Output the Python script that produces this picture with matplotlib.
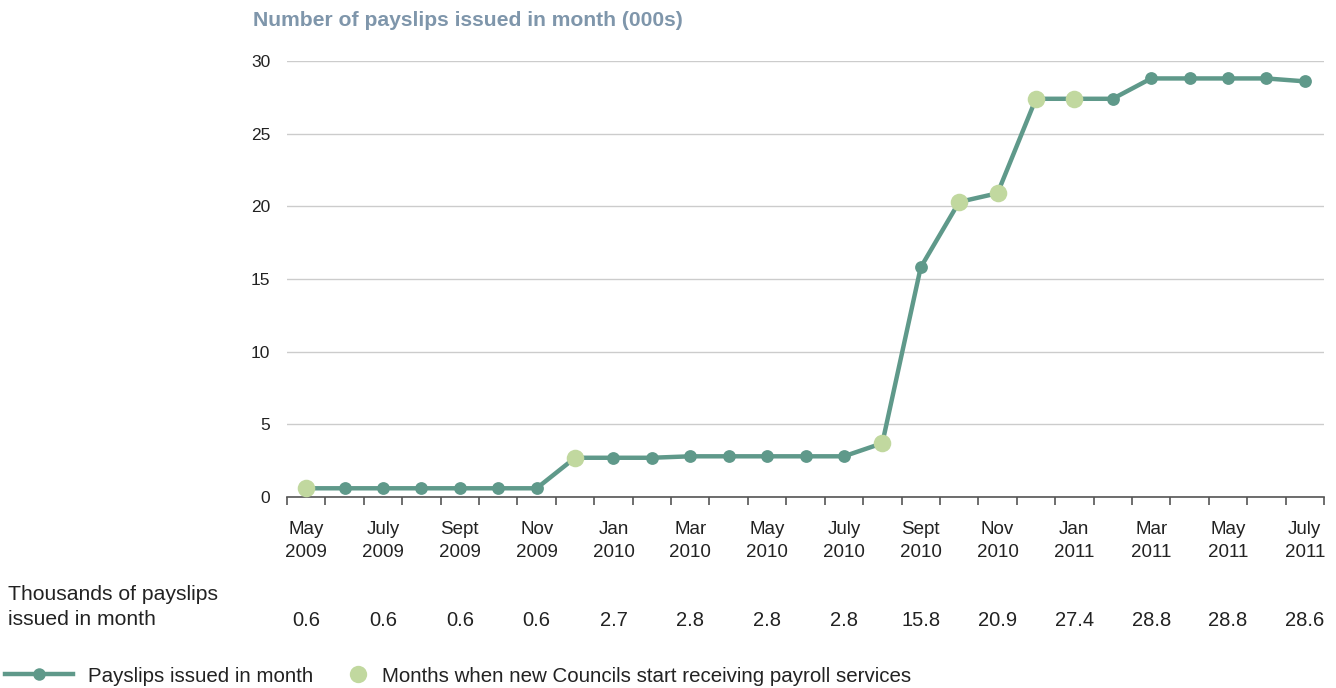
import numpy as np
import matplotlib
matplotlib.use("Agg")
import matplotlib.pyplot as plt
from matplotlib.lines import Line2D
from matplotlib.transforms import blended_transform_factory

# Data
months = ["May", "June", "July", "Aug", "Sept", "Oct", "Nov", "Dec",
          "Jan", "Feb", "Mar", "Apr", "May", "June", "July", "Aug", "Sept", "Oct", "Nov", "Dec",
          "Jan", "Feb", "Mar", "Apr", "May", "June", "July"]
years = [2009] * 8 + [2010] * 12 + [2011] * 7
payslips = [0.6, 0.6, 0.6, 0.6, 0.6, 0.6, 0.6, 2.7,
            2.7, 2.7, 2.8, 2.8, 2.8, 2.8, 2.8, 3.7, 15.8, 20.3, 20.9, 27.4,
            27.4, 27.4, 28.8, 28.8, 28.8, 28.8, 28.6]
new_council = [1, 0, 0, 0, 0, 0, 0, 1,
               0, 0, 0, 0, 0, 0, 0, 1, 0, 1, 1, 1,
               1, 0, 0, 0, 0, 0, 0]
yticks = [0, 5, 10, 15, 20, 25, 30]

dark = "#5f998a"
light = "#c1d89f"
title_col = "#7f96ab"
txt = "#222222"

plt.rcParams["font.family"] = ["Liberation Sans", "DejaVu Sans"]

x = np.arange(len(payslips))
vals = np.array(payslips)
hl = np.array(new_council, dtype=bool)

fig = plt.figure(figsize=(13.36, 6.88), dpi=100, facecolor="white")
ax = fig.add_axes([287 / 1336, 1 - 497 / 688, (1324 - 287) / 1336, (497 - 61) / 688])

ax.plot(x, vals, color=dark, lw=3.2, zorder=3)
ax.scatter(x[~hl], vals[~hl], s=85, color=dark, zorder=4, linewidths=0)
ax.scatter(x[hl], vals[hl], s=160, color=light, zorder=5, linewidths=0)

ax.set_xlim(-0.5, len(payslips) - 0.5)
ax.set_ylim(0, 30)
ax.set_yticks(yticks)
ax.tick_params(axis="y", length=0, labelsize=12.5, labelcolor=txt, pad=12)
ax.yaxis.grid(True, color="#cccccc", lw=1)
ax.set_axisbelow(True)
for s in ["left", "right", "top"]:
    ax.spines[s].set_visible(False)
ax.spines["bottom"].set_color("#555555")
ax.spines["bottom"].set_linewidth(1.2)

# tick marks between months, labels every other month
ax.set_xticks(np.arange(-0.5, len(payslips), 1.0), minor=True)
ax.tick_params(axis="x", which="minor", length=6, width=1.2, color="#555555")
lab_idx = x[::2]
ax.set_xticks(lab_idx)
ax.set_xticklabels([f"{months[i]}\n{years[i]}" for i in lab_idx], linespacing=1.52)
ax.tick_params(axis="x", which="major", length=0, labelsize=13.5, labelcolor=txt, pad=17)

# table row of values under the axis
trans = blended_transform_factory(ax.transData, fig.transFigure)
for i in lab_idx:
    ax.text(i, 1 - 620 / 688, f"{payslips[i]:.1f}", transform=trans, ha="center", va="center",
            fontsize=14.5, color=txt)
fig.text(8 / 1336, 1 - 607 / 688, "Thousands of payslips\nissued in month", ha="left", va="center",
         fontsize=15.2, color=txt, linespacing=1.35)

fig.text(253 / 1336, 1 - 21 / 688, "Number of payslips issued in month (000s)", ha="left", va="center",
         fontsize=15.2, fontweight="bold", color=title_col)

# legend
h1 = Line2D([], [], color=dark, lw=3.2, marker="o", markersize=9, markeredgewidth=0)
h2 = Line2D([], [], color=light, ls="none", marker="o", markersize=12.5, markeredgewidth=0)
fig.legend([h1], ["Payslips issued in month"], loc="center left",
           bbox_to_anchor=(5 / 1336, 1 - 676 / 688), frameon=False, fontsize=14.8,
           handlelength=3.3, handletextpad=0.75, borderpad=0, borderaxespad=0, labelcolor=txt)
fig.legend([h2], ["Months when new Councils start receiving payroll services"], loc="center left",
           bbox_to_anchor=(349 / 1336, 1 - 676 / 688), frameon=False, fontsize=14.8,
           handlelength=0.9, handletextpad=0.7, borderpad=0, borderaxespad=0, labelcolor=txt)

plt.savefig("out.png", dpi=100, facecolor="white")
